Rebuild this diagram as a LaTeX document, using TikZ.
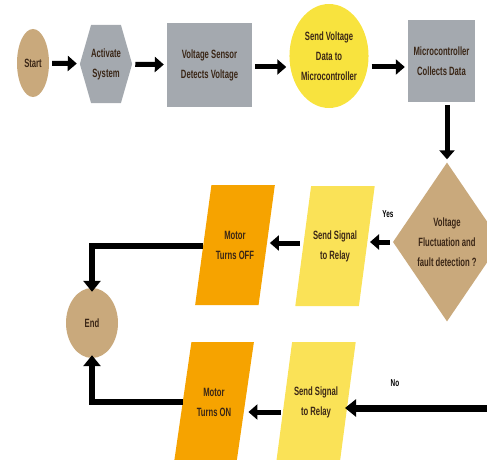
\documentclass[tikz,border=0pt]{standalone}
\usepackage{fontspec}
\newfontfamily\flowfont{Liberation Sans}[FakeStretch=0.64]
\usepackage{xcolor}
\usetikzlibrary{shapes.geometric, shapes.symbols, arrows.meta}

\definecolor{tanfill}{HTML}{C9A97C}
\definecolor{grayfill}{HTML}{A4A9AF}
\definecolor{sunfill}{HTML}{F8E33E}
\definecolor{relayfill}{HTML}{FAE257}
\definecolor{motorfill}{HTML}{F6A300}
\definecolor{inkbrown}{HTML}{3A2616}

\begin{document}
\begin{tikzpicture}[x=1pt, y=-1pt,
    txt/.style={font=\flowfont\bfseries\fontsize{12}{20}\selectfont, text=inkbrown, align=center, inner sep=0pt},
    terminal/.style={txt, ellipse, fill=tanfill},
    procbox/.style={txt, rectangle, fill=grayfill},
    slanted/.style={txt, trapezium, trapezium left angle=65, trapezium right angle=115,
      trapezium stretches=true, minimum width=80, minimum height=120},
    arr/.style={line width=5pt, -{Triangle[length=9pt, width=15pt]}, shorten <=3pt, shorten >=3pt},
    bigarr/.style={line width=6pt, -{Triangle[length=11pt, width=17pt]}}]
  \useasboundingbox (0,0) rectangle (487,460);
  \clip (0,0) rectangle (487,460);

  % top row
  \node[terminal, minimum width=32, minimum height=68] (start) at (33,63) {Start};
  \node[txt, signal, signal to=east and west, signal pointer angle=148, fill=grayfill,
        minimum width=52, minimum height=78] (act) at (106,64) {Activate\\System};
  \node[procbox, minimum width=85, minimum height=84] (sensor) at (209.5,65) {Voltage Sensor\\Detects Voltage};
  \node[terminal, fill=sunfill, minimum width=78, minimum height=104] (send) at (329,56) {Send Voltage\\Data to\\Microcontroller};
  \node[procbox, minimum width=67, minimum height=82] (micro) at (441.5,61) {Microcontroller\\Collects Data};

  % decision
  \node[txt, diamond, fill=tanfill, minimum width=82, minimum height=159] (dec) at (447,242)
       {Voltage\\Fluctuation and\\fault detection ?};

  % relays and motor
  \node[slanted, fill=relayfill] (relayA) at (335,246) {Send Signal\\to Relay};
  \node[slanted, fill=motorfill] (off) at (235,245) {Motor\\Turns OFF};
  \node[slanted, fill=relayfill] (relayB) at (316,402) {Send Signal\\to Relay};
  \node[slanted, fill=motorfill] (on) at (214,402) {Motor\\Turns ON};
  \node[terminal, minimum width=52, minimum height=70] (end) at (92,323) {End};

  \node[font=\flowfont\bfseries\fontsize{10}{12}\selectfont] (yes) at (388,214) {Yes};
  \node[font=\flowfont\bfseries\fontsize{10}{12}\selectfont] (no) at (395,383) {No};
  \coordinate (noin) at (492,408);

  % connectors
  \draw[arr] (start) -- (act);
  \draw[arr] (act) -- (sensor);
  \draw[arr] (sensor.east |- 0,67) -- (send.west |- 0,67);
  \draw[arr] (send.east |- 0,67) -- (micro.west |- 0,67);
  \draw[arr] (dec.north |- micro.south) -- (dec.north);
  \draw[arr] (dec.west) -- (relayA.east |- dec.west);
  \draw[arr] (relayA.west |- 0,243) -- (off.east |- 0,243);
  \draw[arr] (relayB.west |- 0,412) -- (on.east |- 0,412);
  \draw[bigarr] (off.west |- 0,246) -| ([yshift=-4pt]end.north);
  \draw[bigarr] (on.west |- 0,402) -| ([yshift=3pt]end.south);
  \draw[bigarr, line width=7pt] (noin) -- ([xshift=-3pt]relayB.east |- noin);
\end{tikzpicture}
\end{document}
